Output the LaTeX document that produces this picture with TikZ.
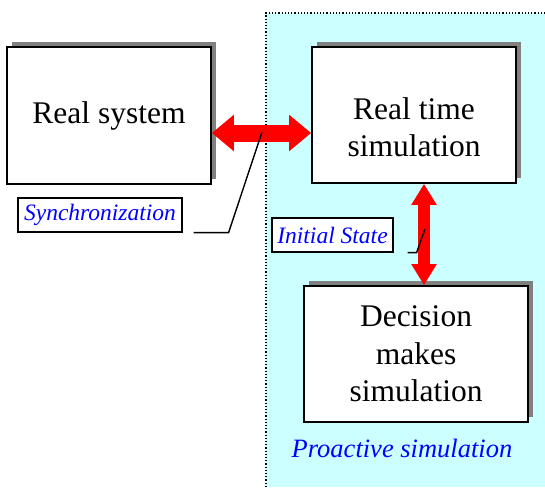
\documentclass[tikz,border=0pt]{standalone}
\usepackage{fontspec}
\setmainfont{Liberation Serif}
\usetikzlibrary{arrows.meta,shadows}
\definecolor{paleaqua}{HTML}{CCFFFF}
\definecolor{linkblue}{HTML}{0000FF}

\tikzset{
	block/.style={draw, line width=1.7pt, fill=white, inner sep=0pt, align=center,
		font=\fontsize{31.5}{37.5}\selectfont,
		general shadow={fill=gray, shadow xshift=5pt, shadow yshift=5pt}},
	tag/.style={draw, line width=1.2pt, fill=white, inner sep=2pt,
		font=\fontsize{23.5}{26}\selectfont\itshape, text=linkblue},
	link/.style={red, line width=17pt},
	leader/.style={line width=1.4pt}
}

\begin{document}
\begin{tikzpicture}[x=1pt,y=-1pt]
	\useasboundingbox (0,0) rectangle (545,487);

	% proactive area
	\fill[paleaqua] (266,13) rectangle (545,487);
	\draw[dotted, line width=1.2pt] (266,487) -- (266,13) -- (545,13);
	\path (402,448) node[font=\fontsize{26.5}{30}\selectfont\itshape, text=linkblue] (proactive) {Proactive simulation};

	% boxes
	\path (109,115.5) node[block, minimum width=204pt, minimum height=137pt] (real) {Real system};
	\path (414,115) node[block, minimum width=204pt, minimum height=136pt] (rts) {\rule{0pt}{46pt}Real time\\simulation};
	\path (416,354) node[block, minimum width=224pt, minimum height=136pt] (dms) {Decision\\makes\\simulation};

	% arrows
	\draw[link, {Triangle[width=35pt,length=22pt]}-{Triangle[width=35pt,length=22pt]}] (real.east |- 0,133) -- (rts.west |- 0,133);
	\draw[link, line width=12pt, {Triangle[width=24pt,length=21pt]}-{Triangle[width=24pt,length=21pt]}] (424,0 |- rts.south) -- (424,0 |- dms.north);
	\coordinate (synchit) at (262,132);
	\coordinate (inithit) at (425,229);

	% labels
	\path (100,215) node[tag, minimum width=164pt, minimum height=34pt] (sync) {Synchronization};
	\path (332.5,235) node[tag, minimum width=121pt, minimum height=34pt] (init) {Initial State};
	\draw[leader] ([xshift=11pt]sync.south east) -- ++(35,0) -- (synchit);
	\draw[leader] ([xshift=14pt]init.south east) -- ++(9,0) -- (inithit);
\end{tikzpicture}
\end{document}
